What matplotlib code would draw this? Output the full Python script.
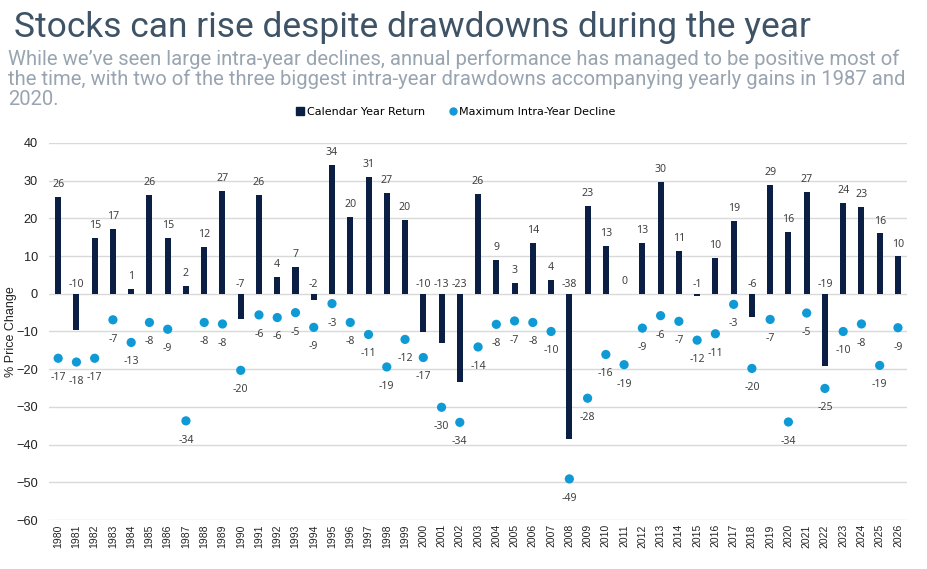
import numpy as np
import matplotlib.pyplot as plt
from matplotlib.lines import Line2D

years = list(range(1980, 2027))

# calendar year return (%)
returns = [25.8, -9.7, 14.8, 17.2, 1.3, 26.3, 14.7, 2.0, 12.4, 27.2,
           -6.6, 26.3, 4.4, 7.1, -1.6, 34.1, 20.3, 31.0, 26.7, 19.6,
           -10.2, -13.1, -23.4, 26.4, 9.0, 2.9, 13.6, 3.6, -38.4, 23.4,
           12.7, 0.0, 13.4, 29.7, 11.4, -0.7, 9.6, 19.4, -6.2, 28.9,
           16.3, 27.0, -19.2, 24.1, 23.0, 16.0, 9.9]

# maximum intra-year decline (%)
declines = [-17.1, -18.1, -17.1, -6.9, -12.9, -7.6, -9.4, -33.7, -7.6, -8.0,
            -20.3, -5.6, -6.3, -5.0, -8.9, -2.6, -7.6, -10.8, -19.4, -12.1,
            -16.9, -30.1, -34.1, -14.1, -8.1, -7.2, -7.6, -10.0, -49.1, -27.7,
            -16.1, -18.8, -9.1, -5.8, -7.3, -12.3, -10.6, -2.8, -19.8, -6.8,
            -34.0, -5.1, -25.1, -10.0, -8.0, -19.0, -9.0]

navy = '#0b1f45'
blue = '#0f9ad6'
num_font = 'Liberation Sans'
lab_font = 'Noto Sans'

fig = plt.figure(figsize=(9.27, 5.69), dpi=100)
ax = fig.add_axes([0.0529, 0.0861, 0.9256, 0.6626])

x = np.arange(len(years))

# bars and dots
ax.bar(x, returns, width=0.33, color=navy, zorder=3)
ax.scatter(x, declines, s=44, color=blue, zorder=4, edgecolors='none')

# data labels
for xi, v in zip(x, returns):
    if v >= 0:
        ax.annotate(f'{round(v)}', (xi, v), xytext=(0, 5), textcoords='offset points',
                    ha='center', va='bottom', fontsize=7.6, color='#404040', family=lab_font)
    else:
        ax.annotate(f'{round(v)}', (xi, 0), xytext=(0, 3), textcoords='offset points',
                    ha='center', va='bottom', fontsize=7.6, color='#404040', family=lab_font)
for xi, v in zip(x, declines):
    ax.annotate(f'{round(v)}', (xi, v), xytext=(0, -14), textcoords='offset points',
                ha='center', va='center', fontsize=7.6, color='#404040', family=lab_font)

# axes styling
ax.set_xlim(-0.5, len(years) - 0.5)
ax.set_ylim(-60, 40)
ax.set_yticks(np.arange(-60, 41, 10))
ax.set_xticks(x)
ax.set_xticklabels([str(y) for y in years], rotation=90, fontsize=7.5,
                   family=num_font, color='#222222')
for lbl in ax.get_yticklabels():
    lbl.set_family(num_font)
ax.tick_params(axis='y', labelsize=9.2, colors='#222222', length=0, pad=8)
ax.tick_params(axis='x', length=0, pad=3)
ax.grid(axis='y', color='#d9d9d9', linewidth=1, zorder=0)
ax.set_axisbelow(True)
for s in ax.spines.values():
    s.set_visible(False)
ax.set_ylabel('% Price Change', fontsize=9, family=num_font, color='#222222')
ax.yaxis.set_label_coords(-0.037, 0.5)

# titles
fig.text(0.015, 0.935, 'Stocks can rise despite drawdowns during the year',
         fontsize=25.5, color='#3e5366', family='Roboto', va='baseline')
sub_lines = ['While we\u2019ve seen large intra-year declines, annual performance has managed to be positive most of',
             'the time, with two of the three biggest intra-year drawdowns accompanying yearly gains in 1987 and',
             '2020.']
for i, line in enumerate(sub_lines):
    fig.text(0.009, 0.8858 - i * 0.0352, line, fontsize=14.6, color='#98a4b0',
             family='Roboto', va='baseline')

# legend
handles = [Line2D([], [], marker='s', color=navy, linestyle='None', markersize=6),
           Line2D([], [], marker='o', color=blue, linestyle='None', markersize=5)]
fig.legend(handles, ['Calendar Year Return', 'Maximum Intra-Year Decline'],
           loc='center', bbox_to_anchor=(0.492, 0.803), ncol=2, frameon=False,
           fontsize=8, handlelength=0.6, handletextpad=0.3, columnspacing=2.2)

fig.savefig('out.png', dpi=100)
